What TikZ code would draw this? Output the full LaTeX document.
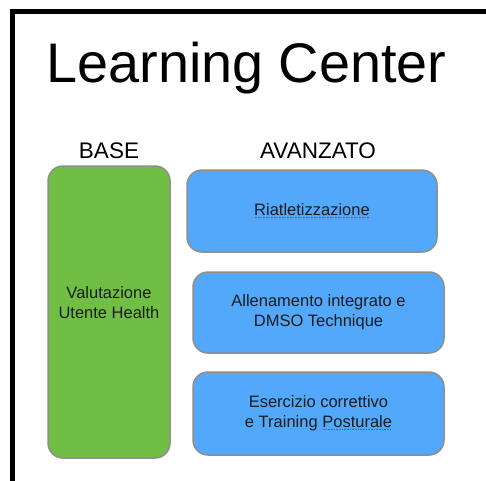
\documentclass[tikz,border=0pt]{standalone}
\usepackage{fontspec}
\setmainfont{Liberation Sans}
\definecolor{basegreen}{HTML}{70BF44}
\definecolor{advblue}{HTML}{52A8FA}
\definecolor{edgegray}{HTML}{8E8E8E}
\definecolor{boxtextcol}{HTML}{1C1C1C}
\definecolor{spellred}{HTML}{E8283C}
% red dotted spell-check mark under a word
\newcommand{\spellmark}[1]{\setbox0\hbox{#1}\rlap{\color{spellred}\raisebox{-2.2pt}{\hbox to \wd0{\leaders\hbox to 1.6pt{\hss\rule{0.8pt}{0.8pt}\hss}\hfill}}}\box0}
\tikzset{
  card/.style = {draw = edgegray, line width = 1.5pt, rounded corners = 15pt},
  cardtext/.style = {text = boxtextcol, align = center, inner sep = 0pt,
    font = \fontsize{16.5}{20}\selectfont},
  header/.style = {anchor = base, inner sep = 0pt, font = \fontsize{22.5}{27}\selectfont}
}
\begin{document}
\begin{tikzpicture}[x = 1pt, y = -1pt]
\useasboundingbox (0, 0) rectangle (486, 480);
% frame
\draw[line width = 5pt] (12.5, 482) -- (12.5, 11.5) -- (488, 11.5);
% title and headers
\node[anchor = base, inner sep = 0pt, font = \fontsize{55.8}{60}\selectfont] (title) at (246.5, 82) {Learning Center};
\node[header] (base) at (109, 158) {BASE};
\node[header] (avanzato) at (318, 158) {AVANZATO};
% base column
\node[card, fill = basegreen, minimum width = 122pt, minimum height = 292pt] (valut) at (109, 312) {};
\node[cardtext] (valuttxt) at (109, 303) {Valutazione\\Utente Health};
% advanced column
\node[card, fill = advblue, minimum width = 250pt, minimum height = 82pt] (riat) at (312, 211) {};
\node[cardtext] (riattxt) at (riat) {\spellmark{Riatletizzazione}};
\node[card, fill = advblue, minimum width = 251pt, minimum height = 81pt] (allen) at (318.5, 312.5) {};
\node[cardtext] (allentxt) at (allen) {Allenamento integrato e\\DMSO Technique};
\node[card, fill = advblue, minimum width = 251pt, minimum height = 83pt] (eserc) at (318.5, 413.5) {};
\node[cardtext] (esercxt) at (eserc) {Esercizio correttivo\\e Training \spellmark{Posturale}};
\end{tikzpicture}
\end{document}
